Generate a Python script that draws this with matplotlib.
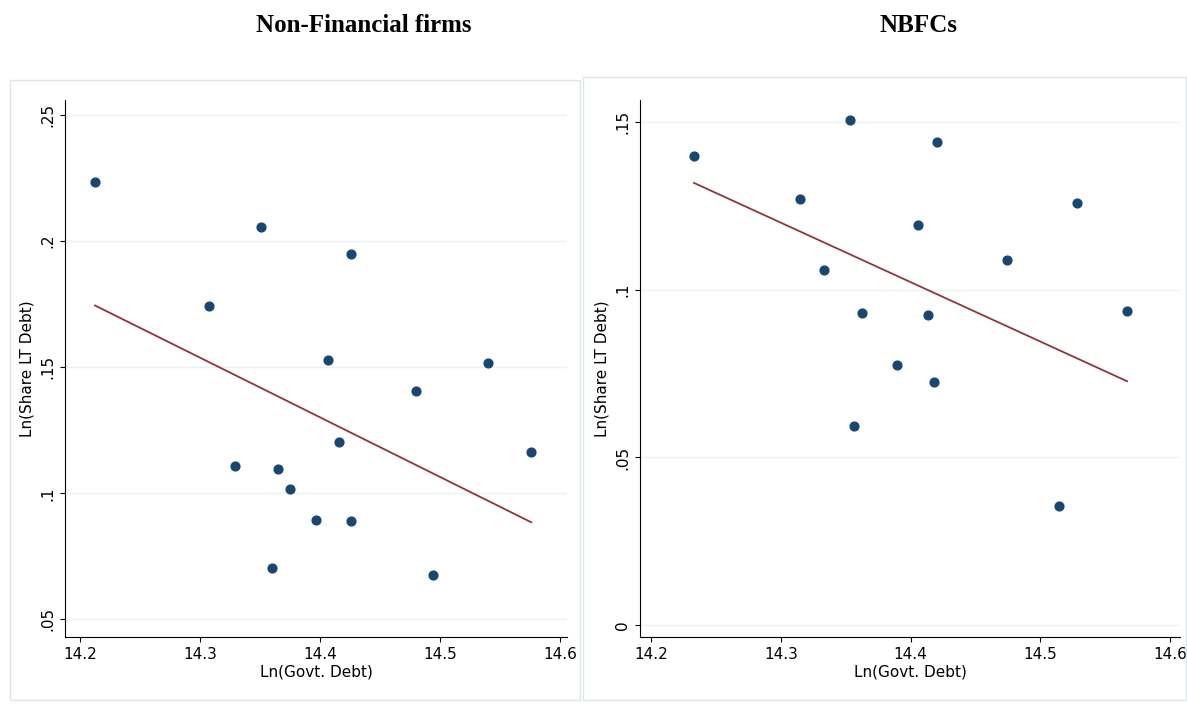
import matplotlib
matplotlib.use("Agg")
import matplotlib.pyplot as plt
import numpy as np
from matplotlib.patches import Rectangle

nf_x = [14.2125,14.3075,14.329,14.351,14.36,14.365,14.375,14.397,14.407,14.416,14.426,14.426,14.48,14.494,14.54,14.576]
nf_y = [.2233,.1743,.111,.2055,.0703,.1095,.1016,.0894,.1528,.1205,.1948,.0890,.1407,.0677,.1516,.1163]
nf_fit_x = [14.2125, 14.576]
nf_fit_y = [.1745, .0885]
nb_x = [14.2331,14.315,14.333,14.3534,14.3565,14.3626,14.3896,14.4058,14.4135,14.4181,14.4204,14.4744,14.5145,14.5283,14.5669]
nb_y = [.1398,.1269,.1057,.1506,.0594,.0929,.0774,.1192,.0923,.0726,.1441,.1087,.0354,.1257,.0935]
nb_fit_x = [14.2331, 14.5669]
nb_fit_y = [.1318, .0727]
xticks = [14.2,14.3,14.4,14.5,14.6]
xlabels = ["14.2","14.3","14.4","14.5","14.6"]
nf_yt = [.05,.1,.15,.2,.25]; nf_yl = [".05",".1",".15",".2",".25"]
nb_yt = [0,.05,.1,.15]; nb_yl = ["0",".05",".1",".15"]

W,H = 1187,718
fig = plt.figure(figsize=(W/100,H/100), dpi=100)
fig.patches.append(Rectangle((10/W,1-700/H),570/W,620/H,transform=fig.transFigure,fill=False,ec="#dde6ea",lw=1))
fig.patches.append(Rectangle((583/W,1-700/H),603/W,623/H,transform=fig.transFigure,fill=False,ec="#dde6ea",lw=1))

def panel(rect, xs, ys, fx, fy, xlim, yt, yl, ylim, title, tx):
    l,t,r,b = rect
    ax = fig.add_axes([l/W,1-b/H,(r-l)/W,(b-t)/H])
    ax.scatter(xs, ys, s=40, color="#1a476f", zorder=3)
    ax.plot(fx, fy, color="#90353b", lw=1.3, zorder=2)
    ax.set_xlim(*xlim)
    ax.set_ylim(*ylim)
    ax.set_xticks(xticks, xlabels)
    ax.set_yticks(yt, yl)
    for lab in ax.get_yticklabels():
        lab.set_rotation(90); lab.set_va("center")
    ax.grid(axis="y", color="#eaf2f3", lw=1)
    ax.spines["top"].set_visible(False); ax.spines["right"].set_visible(False)
    ax.tick_params(labelsize=11)
    ax.set_xlabel("Ln(Govt. Debt)", fontsize=11, labelpad=2)
    ax.set_ylabel("Ln(Share LT Debt)", fontsize=11)
    fig.text(tx/W, 1-26/H, title, ha="center", va="center", fontsize=18, fontweight="bold", family="Liberation Serif")

panel((65,100,567,637), nf_x, nf_y, nf_fit_x, nf_fit_y, (14.1875,14.6058), nf_yt, nf_yl, (0.043,0.256), "Non-Financial firms", 364)
panel((640,100,1180,637), nb_x, nb_y, nb_fit_x, nb_fit_y, (14.1915,14.6077), nb_yt, nb_yl, (-0.0035,0.1565), "NBFCs", 918)
fig.savefig("out.png", dpi=100)
